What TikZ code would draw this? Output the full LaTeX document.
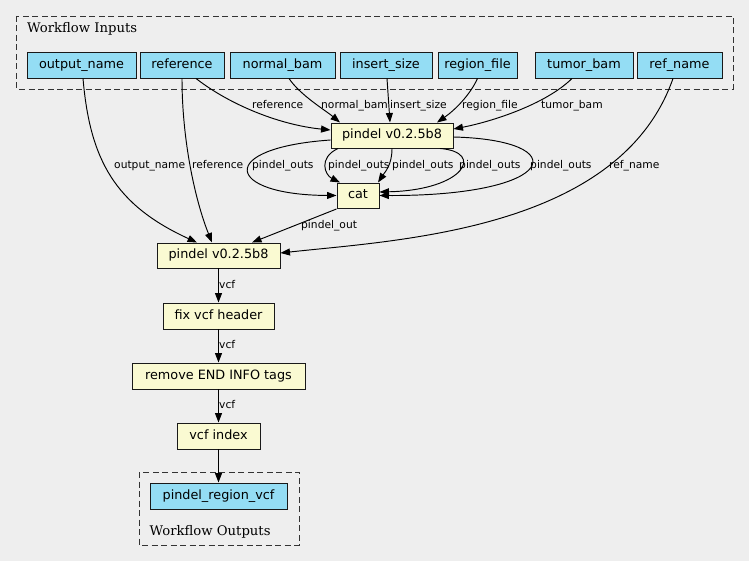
\documentclass[tikz,border=0pt]{standalone}
\usepackage{fontspec}
\usetikzlibrary{arrows.meta}
\newfontfamily\dvsans{DejaVu Sans}
\newfontfamily\dvserif{DejaVu Serif}
\definecolor{bgc}{HTML}{EEEEEE}
\definecolor{inc}{HTML}{94DDF4}
\definecolor{stc}{HTML}{FAFAD2}
\begin{document}
\begin{tikzpicture}[x=1pt,y=-1pt,
  box/.style={draw=black!90, line width=0.95pt, inner sep=0pt, minimum height=26pt,
    font=\dvsans\fontsize{12.8}{14}\selectfont, text height=9.3pt, text depth=2.7pt},
  inp/.style={box, fill=inc},
  stp/.style={box, fill=stc, minimum height=25pt},
  lbl/.style={font=\dvsans\fontsize{10.7}{12}\selectfont, inner sep=0pt, anchor=west,
    text height=8pt, text depth=2.5pt},
  clbl/.style={font=\dvserif\fontsize{13.2}{15}\selectfont, inner sep=0pt, anchor=base west},
  edge/.style={line width=0.95pt, -{Triangle[length=9.5pt,width=7pt]}},
  clus/.style={draw=black!80, line width=0.95pt, dash pattern=on 6pt off 3.5pt}]
\useasboundingbox (0,0) rectangle (749,561);
\fill[bgc] (0,0) rectangle (749,561);

% clusters
\draw[clus] (16,16) rectangle (733,89);
\node[clbl] (inlbl) at (27,32.3) {Workflow Inputs};
\draw[clus] (139,472) rectangle (299,545);
\node[clbl] (outlbl) at (149.5,535) {Workflow Outputs};

% inputs
\node[inp, minimum width=109pt] (outname) at (81.5,65) {output\_name};
\node[inp, minimum width=84pt] (reference) at (182,65) {reference};
\node[inp, minimum width=105pt] (normal) at (282.5,65) {normal\_bam};
\node[inp, minimum width=92pt] (insert) at (386,65) {insert\_size};
\node[inp, minimum width=79pt] (region) at (477.5,65) {region\_file};
\node[inp, minimum width=98pt] (tumor) at (584,65) {tumor\_bam};
\node[inp, minimum width=85pt] (refname) at (679.5,65) {ref\_name};

% steps
\node[stp, minimum width=122pt] (p1) at (392,135.5) {pindel v0.2.5b8};
\node[stp, minimum width=42pt] (cat) at (358,195.5) {cat};
\node[stp, minimum width=123pt] (p2) at (218.5,255.5) {pindel v0.2.5b8};
\node[stp, minimum width=111pt, minimum height=26pt] (fix) at (218.5,316) {fix vcf header};
\node[stp, minimum width=173pt, minimum height=26pt] (remove) at (218.5,376) {remove END INFO tags};
\node[stp, minimum width=83pt, minimum height=26pt] (vidx) at (218.5,436) {vcf index};
\node[inp, minimum width=137pt] (outvcf) at (218.5,496) {pindel\_region\_vcf};

% edges into p1
\draw[edge] ([xshift=14pt]reference.south) .. controls (230,105) and (280,125) .. ([yshift=5.5pt]p1.west);
\draw[edge] ([xshift=6.5pt]normal.south) .. controls (300,95) and (325,110) .. ([xshift=-52pt]p1.north);
\draw[edge] ([xshift=1pt]insert.south) -- ([xshift=-2pt]p1.north);
\draw[edge] (region.south) .. controls (470,95) and (455,110) .. ([xshift=45pt]p1.north);
\draw[edge] ([xshift=-12pt]tumor.south) .. controls (545,105) and (490,122) .. ([yshift=6.5pt]p1.east);

% edges into p2
\draw[edge] ([xshift=1.5pt]outname.south) .. controls (90,160) and (115,205) .. ([xshift=-21.5pt]p2.north);
\draw[edge] (reference.south) .. controls (182,140) and (195,200) .. ([xshift=-6.5pt]p2.north);
\draw[edge] ([xshift=-6.5pt]refname.south) .. controls (620,230) and (400,240) .. ([yshift=2.5pt]p2.east);

% p1 -> cat
\draw[edge] ([yshift=-4.5pt]p1.west) .. controls (215,148) and (225,195) .. (cat.west);
\draw[edge] ([xshift=-54pt]p1.south) .. controls (318,158) and (325,175) .. ([xshift=-18pt]cat.north);
\draw[edge] (p1.south) .. controls (392,165) and (385,172) .. ([xshift=20pt]cat.north);
\draw[edge] ([xshift=48pt]p1.south) .. controls (485,152) and (465,190) .. ([yshift=3.5pt]cat.east);
\draw[edge] ([yshift=-1.5pt]p1.east) .. controls (575,140) and (560,196) .. (cat.east);

% cat -> p2
\draw[edge] ([yshift=-0.5pt]cat.south west) -- ([xshift=33.5pt]p2.north);

% chain
\draw[edge] (p2.south) -- (fix.north);
\draw[edge] (fix.south) -- (remove.north);
\draw[edge] (remove.south) -- (vidx.north);
\draw[edge] (vidx.south) -- (outvcf.north);

% labels
\node[lbl] (la1) at (252,106) {reference};
\node[lbl] (la2) at (321,106) {normal\_bam};
\node[lbl] (la3) at (390,106) {insert\_size};
\node[lbl] (la4) at (462,106) {region\_file};
\node[lbl] (la5) at (541,106) {tumor\_bam};
\node[lbl] (lb1) at (114,166) {output\_name};
\node[lbl] (lb2) at (192,166) {reference};
\node[lbl] (lb3) at (252,166) {pindel\_outs};
\node[lbl] (lb4) at (328,166) {pindel\_outs};
\node[lbl] (lb5) at (392,166) {pindel\_outs};
\node[lbl] (lb6) at (459,166) {pindel\_outs};
\node[lbl] (lb7) at (530,166) {pindel\_outs};
\node[lbl] (lb8) at (609,166) {ref\_name};
\node[lbl] (lc1) at (301,226) {pindel\_out};
\node[lbl] (lv1) at (219,286) {vcf};
\node[lbl] (lv2) at (219,346) {vcf};
\node[lbl] (lv3) at (219,406) {vcf};
\end{tikzpicture}
\end{document}
